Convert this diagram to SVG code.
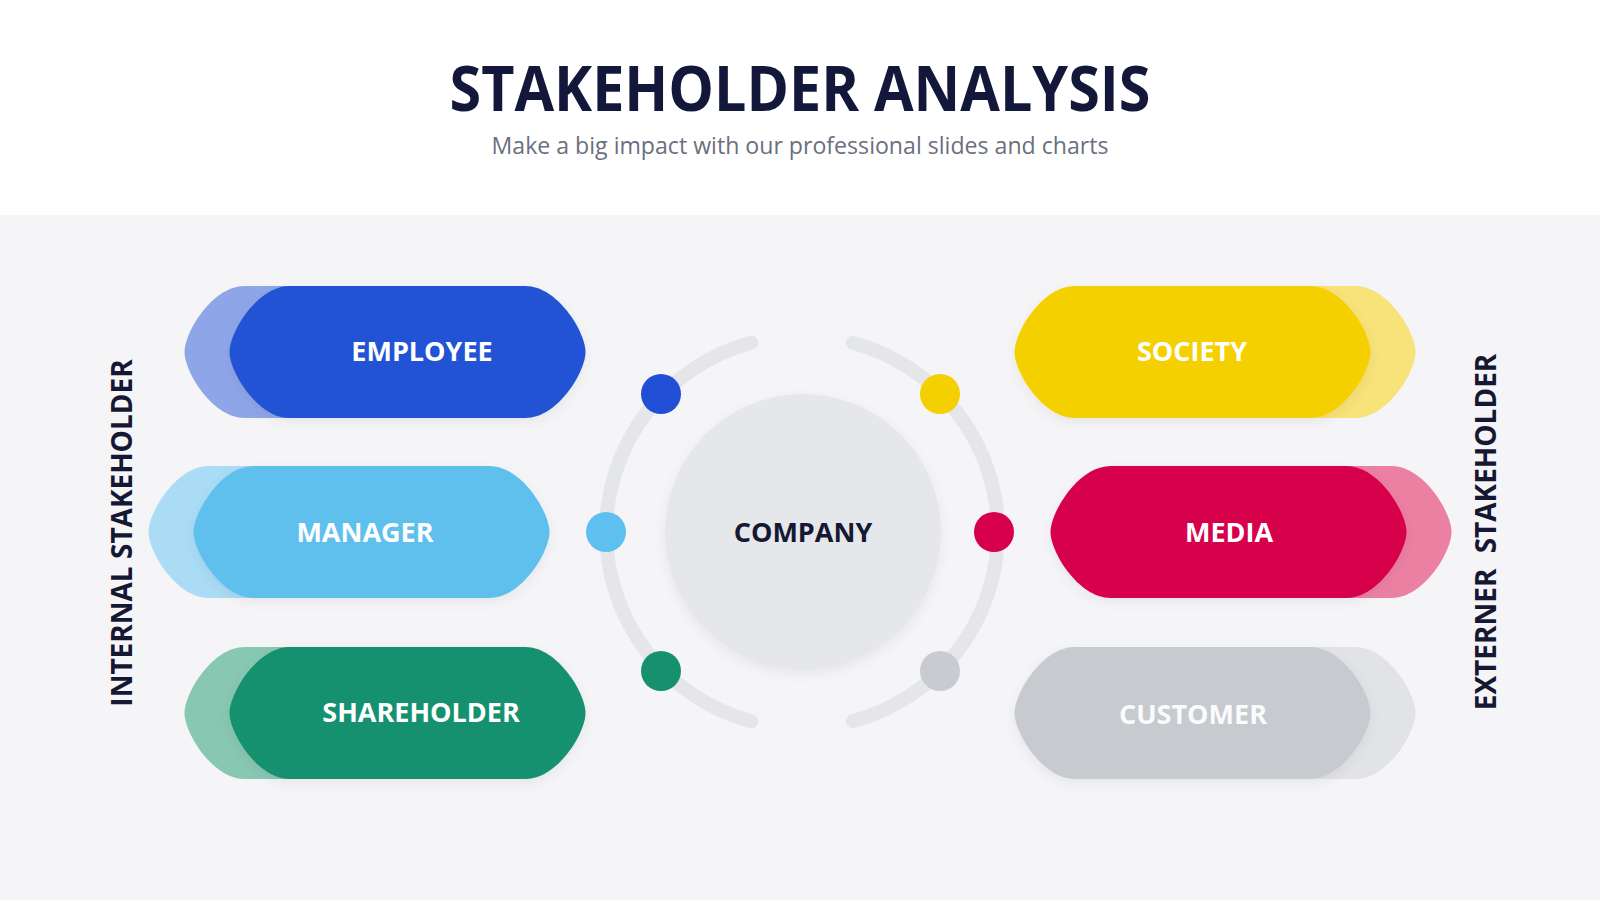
<svg xmlns="http://www.w3.org/2000/svg" xmlns:xlink="http://www.w3.org/1999/xlink" width="1600" height="900" viewBox="0 0 1600 900">
<style>
.t{font-family:"Open Sans","Noto Sans","Liberation Sans",sans-serif;font-weight:700}
.lbl{font-size:27px;fill:#ffffff;text-anchor:middle}
.side{font-size:28px;fill:#161833;text-anchor:middle}
.arc{fill:none;stroke:#e5e6ea;stroke-width:14;stroke-linecap:round}
</style>
<defs>
<path id="pill" d="M -118,-66 H 118 C 150,-66 178,-20 178,0 C 178,20 150,66 118,66 H -118 C -150,66 -178,20 -178,0 C -178,-20 -150,-66 -118,-66 Z"/>
<filter id="sh" x="-20%" y="-20%" width="140%" height="140%">
<feDropShadow dx="0" dy="4" stdDeviation="6" flood-color="#000" flood-opacity="0.06"/>
</filter>
</defs>
<rect x="0" y="0" width="1600" height="900" fill="#ffffff"/>
<rect x="0" y="215" width="1600" height="685" fill="#f5f5f8"/>
<g id="title">
<text class="t" x="800" y="111" font-size="62" fill="#13183a" text-anchor="middle" textLength="701" lengthAdjust="spacingAndGlyphs">STAKEHOLDER ANALYSIS</text>
<text x="800" y="154" font-family="'Open Sans','Noto Sans','Liberation Sans',sans-serif" font-size="23" fill="#6b6f80" text-anchor="middle" textLength="617" lengthAdjust="spacingAndGlyphs">Make a big impact with our professional slides and charts</text>
</g>
<g id="internal-label"><text class="t side" transform="translate(132,533) rotate(-90)">INTERNAL STAKEHOLDER</text></g>
<g id="external-label"><text class="t side" transform="translate(1496,532) rotate(-90)" word-spacing="8">EXTERNER STAKEHOLDER</text></g>
<g id="connectors">
<path class="arc" d="M 751.3,342.7 A 196 196 0 0 0 751.3,721.3"/>
<path class="arc" d="M 852.7,342.7 A 196 196 0 0 1 852.7,721.3"/>
</g>
<g id="company">
<circle cx="803" cy="532" r="138" fill="#e6e7ea" filter="url(#sh)"/>
<text class="t" x="803" y="542" font-size="27" fill="#141833" text-anchor="middle">COMPANY</text>
</g>
<g id="dots">
<circle cx="661" cy="394" r="20" fill="#2150d6"/>
<circle cx="606" cy="532" r="20" fill="#5ec0ee"/>
<circle cx="661" cy="671" r="20" fill="#17906e"/>
<circle cx="940" cy="394" r="20" fill="#f5d000"/>
<circle cx="994" cy="532" r="20" fill="#d6004b"/>
<circle cx="940" cy="671" r="20" fill="#c8cbd0"/>
</g>
<g id="employee">
<use xlink:href="#pill" transform="translate(362.5,352)" fill="#8ea5e8"/>
<use xlink:href="#pill" transform="translate(407.5,352)" fill="#2453d4" filter="url(#sh)"/>
<text class="t lbl" x="422" y="361">EMPLOYEE</text>
</g>
<g id="manager">
<use xlink:href="#pill" transform="translate(326.5,532)" fill="#aadcf6"/>
<use xlink:href="#pill" transform="translate(371.5,532)" fill="#5ec0ee" filter="url(#sh)"/>
<text class="t lbl" x="365" y="542">MANAGER</text>
</g>
<g id="shareholder">
<use xlink:href="#pill" transform="translate(362.5,713)" fill="#88c7b2"/>
<use xlink:href="#pill" transform="translate(407.5,713)" fill="#17916f" filter="url(#sh)"/>
<text class="t lbl" x="421" y="722">SHAREHOLDER</text>
</g>
<g id="society">
<use xlink:href="#pill" transform="translate(1237.5,352)" fill="#f8e27a"/>
<use xlink:href="#pill" transform="translate(1192.5,352)" fill="#f5d000" filter="url(#sh)"/>
<text class="t lbl" x="1192" y="361">SOCIETY</text>
</g>
<g id="media">
<use xlink:href="#pill" transform="translate(1273.5,532)" fill="#ec80a2"/>
<use xlink:href="#pill" transform="translate(1228.5,532)" fill="#d6004b" filter="url(#sh)"/>
<text class="t lbl" x="1229" y="542">MEDIA</text>
</g>
<g id="customer">
<use xlink:href="#pill" transform="translate(1237.5,713)" fill="#e1e3e7"/>
<use xlink:href="#pill" transform="translate(1192.5,713)" fill="#c7cacf" filter="url(#sh)"/>
<text class="t lbl" x="1193" y="724" fill-opacity="0.95">CUSTOMER</text>
</g>
</svg>
